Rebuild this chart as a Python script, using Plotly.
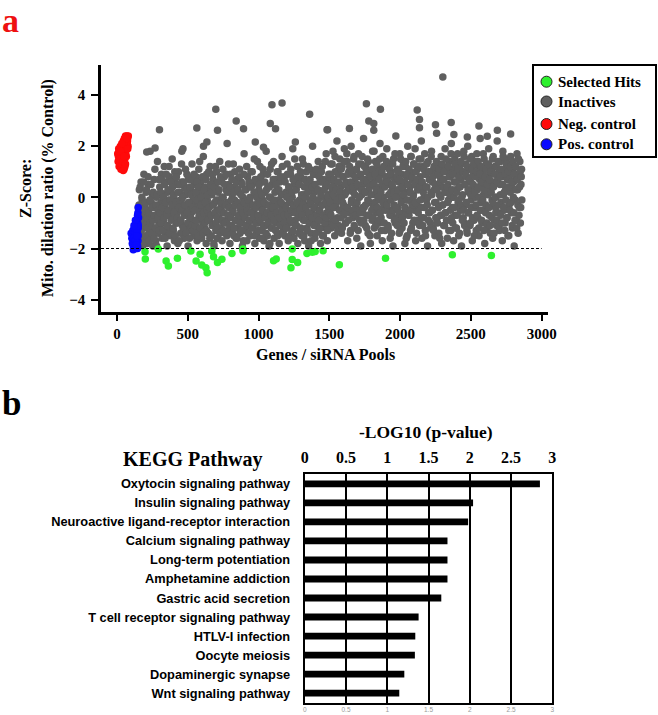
import numpy as np
import plotly.graph_objects as go

W, H = 658, 715
SERIF = "Liberation Serif, Times New Roman, serif"
SANS = "Liberation Sans, Arial, sans-serif"

# ---------------- Panel a data ----------------
gene_start = 150
gene_step = 4
inactive_y = [
    # genes ~150-300
    -0.4, -1.2, 0.3, -1.7, -0.8, 0.6, -1.5, -0.1, -1.9, -0.6, 0.9, -1.1, -0.3, -1.6, 0.2, -0.9, -1.8, -0.5, 0.5, -1.3,
    -0.7, 1.8, -1.0, -0.2, -1.5, 0.1, -1.9, -0.8, 0.7, -1.2, -0.4, -1.7, 0.0, -0.9, 1.4, -1.4, -0.6, -1.1,
    # genes ~300-1500
    0.4, -1.1, -0.2, 0.9, -1.6, -0.5, 0.1, -0.9, 1.2, -0.3, -1.4, 0.6, -0.7, -1.9, 0.2, -0.1, -1.2, 0.8, -0.6, -1.5,
    0.3, -0.8, 1.5, -0.4, -1.3, 0.0, -1.7, 0.7, -0.2, -1.0, 0.5, -0.6, -1.8, 1.0, -0.3, -0.9, 0.2, -1.4, -0.1, 0.6,
    -1.1, 1.9, -0.5, -1.6, 0.4, -0.7, 0.1, -1.2, 0.9, -0.4, -1.9, -0.2, 0.7, -0.8, -1.3, 0.3, -0.6, 1.3, -1.0, -0.1,
    -1.5, 0.5, -0.3, -1.1, 0.8, -0.9, -1.7, 0.0, -0.5, 1.1, -1.3, -0.2, 0.6, -0.7, -1.6, 0.2, -1.0, 1.6, -0.4, -1.2,
    0.4, -0.8, -1.8, 0.9, -0.1, -0.6, -1.4, 0.3, -0.9, 1.2, -0.3, -1.5, 0.1, -0.7, 0.7, -1.1, -1.9, -0.2, 0.5, -1.3,
    1.0, -0.5, -1.6, 0.2, -0.8, -0.1, 1.4, -1.2, -0.4, 0.6, -1.7, -0.6, 0.0, -1.0, 0.8, -0.3, -1.4, 0.3, -0.9, 2.1,
    -0.2, -1.3, 0.5, -0.7, -1.8, 0.9, -0.4, -1.1, 0.1, -0.6, 1.3, -1.5, -0.1, 0.4, -0.9, -1.6, 0.7, -0.3, -1.2, 0.2,
    -0.8, 1.1, -1.4, -0.5, 0.6, -1.0, -1.9, 0.0, -0.2, 1.7, -0.7, -1.3, 0.3, -0.4, -1.7, 0.8, -1.1, -0.6, 0.4, -0.1,
    -1.5, 1.0, -0.3, -0.9, 0.5, -1.2, -0.5, 1.5, -1.8, 0.1, -0.7, -1.4, 0.7, -0.2, -1.0, 0.3, -1.6, 1.2, -0.4, -0.8,
    0.6, -1.3, -0.1, 0.9, -1.7, -0.6, 0.2, -1.1, 1.8, -0.3, -1.5, 0.4, -0.8, -1.9, 0.0, 1.1, -0.5, -1.2, 0.5, -0.9,
    -0.2, 1.4, -1.6, -0.4, 0.7, -1.0, -0.7, 0.3, -1.4, 1.0, -0.1, -1.8, 0.6, -0.6, -1.1, 0.1, 1.6, -0.9, -1.3, -0.3,
    0.8, -1.5, -0.5, 0.2, -1.2, 1.3, -0.8, -1.7, 0.4, -0.2, -1.0, 0.9, -0.6, -1.4, 0.0, 1.9, -0.3, -1.6, 0.5, -0.9,
    -1.1, 0.3, -0.4, 1.2, -1.8, -0.7, 0.6, -0.1, -1.3, 0.8, -0.5, -1.5, 1.5, -0.2, -0.9, 0.1, -1.7, 0.7, -0.6, 1.0,
    -1.2, -0.3, 0.4, -1.9, -0.8, 1.1, -0.1, -1.4, 0.5, -0.6, 2.0, -1.0, -0.4, 0.2, -1.6, 0.9, -0.7, -1.1, 0.3, -0.2,
    1.4, -1.3, -0.5, 0.6, -1.8, -0.9, 0.0, 1.2, -0.3, -1.5, 0.7, -0.8, -1.2, 0.4, 1.7, -0.6, -1.7, 0.1, -0.4, -1.0,
    # genes ~1500-2860
    0.7, -0.6, 1.3, -1.2, 0.2, -0.1, 1.8, -0.9, 0.5, -1.5, 1.0, -0.3, 0.3, 2.2, -0.8, 0.9, -1.1, 0.0, 1.5, -0.5,
    0.4, -1.4, 1.2, -0.2, 0.8, -0.7, 1.9, 0.1, -1.0, 0.6, -0.4, 1.4, -1.7, 0.3, 1.0, -0.6, 0.5, -1.3, 2.0, -0.1,
    0.9, -0.8, 0.2, 1.6, -1.2, 0.6, -0.3, 1.1, -1.6, 0.4, -0.5, 1.7, 0.0, -0.9, 0.8, -1.9, 1.3, 0.1, -0.6, 0.5,
    2.3, -0.4, 0.7, -1.1, 1.2, 0.2, -0.7, 1.5, -1.4, 0.3, 0.9, -0.2, -1.8, 1.0, 0.5, -0.9, 1.8, -0.3, 0.6, -1.2,
    0.1, 1.4, -0.6, 0.8, -1.5, 0.4, 1.1, -0.1, -1.0, 2.1, 0.3, -0.8, 0.9, -1.7, 1.6, 0.0, -0.4, 1.2, -1.3, 0.6,
    -0.2, 1.9, 0.5, -1.1, 0.8, -0.5, 1.3, -1.6, 0.2, 1.0, -0.7, 0.4, -1.9, 1.5, -0.3, 0.7, -1.0, 2.4, 0.1, -0.8,
    1.1, -0.4, 0.6, -1.4, 1.7, 0.0, -0.9, 0.9, -1.2, 0.3, 1.4, -0.6, 0.5, -1.8, 1.2, -0.1, 0.8, -1.5, 2.0, 0.2,
    -0.7, 1.0, 0.4, -1.3, 1.6, -0.2, 0.7, -1.0, 0.1, 1.3, -0.5, 1.9, -1.7, 0.6, -0.3, 1.1, -0.9, 0.3, 1.5, -1.1,
    0.8, -0.4, 2.2, -1.6, 0.5, 1.2, -0.8, 0.0, 1.7, -1.3, 0.9, -0.1, 0.4, -1.9, 1.4, -0.6, 0.7, 1.0, -1.0, 0.2,
    1.8, -0.5, 0.6, -1.2, 1.1, 0.3, -1.5, 0.9, -0.2, 2.5, -0.8, 0.5, 1.3, -1.4, 0.1, 0.8, -0.7, 1.6, -1.8, 0.4,
    -0.3, 1.2, 0.7, -1.1, 1.9, -0.6, 0.2, 1.0, -1.6, 0.5, -0.1, 1.4, -0.9, 0.8, -1.3, 2.1, 0.0, -0.4, 1.1, -1.7,
    0.6, 1.5, -0.7, 0.3, -1.2, 0.9, 1.7, -0.2, -1.5, 0.4, 1.2, -0.5, 0.7, -1.9, 1.0, 0.1, -0.8, 1.8, -1.0, 0.5,
    1.3, -0.3, 0.8, -1.4, 2.0, -0.6, 0.2, 1.1, -1.1, 0.6, -0.1, 1.6, -1.7, 0.4, 0.9, -0.9, 1.4, -0.4, 0.0, -1.3,
    1.7, 0.3, -0.8, 1.2, -1.5, 0.7, 2.3, -0.2, 0.5, -1.0, 1.0, -0.5, 0.1, 1.5, -1.8, 0.8, -0.3, 1.3, -1.2, 0.6,
    0.2, 1.9, -0.7, 0.9, -1.4, 0.4, 1.1, -0.1, -1.6, 1.6, 0.6, -0.9, 1.2, -0.4, 0.0, -1.1, 2.2, 0.7, -0.6, 1.0,
    -1.3, 0.5, 1.4, -0.2, 0.8, -1.7, 1.8, 0.1, -0.5, 1.1, -1.0, 0.3, 1.5, -0.8, 0.7, -1.5, 1.3, -0.3, 0.9, 0.2,
    1.6, -0.6, 0.4, -1.2, 1.0, 0.6, -1.9, 1.2, -0.1, 0.8, -0.9, 1.7, 0.3, -1.4, 0.9, -0.4, 1.4, -1.0, 0.5, 1.1,
]
inactive_x = list(range(gene_start, gene_start + gene_step * len(inactive_y), gene_step))

# interleaved pools (genes 152, 156, ...)
inactive_y2 = [
    -1.0, -0.3, -1.6, 0.4, -0.7, -1.3, 0.0, -0.9, -1.8, 0.6, -0.5, -1.1, -0.2, -1.5, 0.3, -0.8, -1.2, 0.8, -0.6, -1.7,
    -0.1, -1.0, 0.5, -1.4, -0.4, -0.9, 0.2, -1.6, -0.7, 1.1, -1.2, -0.3, -1.9, 0.1, -0.8, -0.5, 0.7, -1.3,
    -0.6, 0.2, -1.0, 0.7, -0.4, -1.3, 0.0, -0.8, 0.5, -1.6, -0.2, 0.9, -0.7, -1.1, 0.3, -0.5, 1.2, -1.4, -0.1, 0.6,
    -0.9, -0.3, 0.4, -1.2, 0.1, -0.6, 1.0, -1.5, -0.2, 0.8, -0.8, -1.0, 0.2, -0.4, -1.7, 0.5, -0.1, -0.9, 1.3, -0.5,
    0.0, -1.2, 0.6, -0.7, -0.3, 1.1, -1.4, 0.3, -0.6, -1.0, 0.8, -0.2, -1.6, 0.4, -0.8, 0.1, -1.1, 0.7, -0.4, -1.3,
    0.9, -0.5, -1.1, 0.2, -0.9, 0.6, -0.1, -1.5, 0.4, -0.7, 1.4, -1.2, -0.3, 0.0, -0.8, 0.8, -1.4, -0.6, 0.3, -1.0,
    -0.2, 0.7, -1.3, -0.5, 0.1, -0.9, 1.0, -0.4, -1.6, 0.5, -0.7, 0.2, -1.1, 0.9, -0.3, -1.8, 0.4, -0.6, 1.2, -1.0,
    -0.1, -0.8, 0.6, -1.2, 0.3, -0.5, -1.4, 0.8, -0.2, -0.9, 0.0, 1.1, -1.3, -0.6, 0.5, -1.0, -0.3, 0.9, -1.5, 0.2,
    -0.7, 1.3, -0.4, -1.1, 0.4, -0.8, -0.1, 0.7, -1.4, -0.5, 0.2, -1.2, 1.0, -0.3, -0.9, 0.6, -1.6, -0.2, 0.3, -0.7,
    0.8, -1.0, -0.4, 0.1, -1.3, 0.5, -0.6, -1.7, 0.9, -0.2, -0.8, 0.3, -1.1, 1.2, -0.5, -0.1, -1.4, 0.6, -0.9, 0.0,
    -0.6, 0.4, -1.2, 1.0, -0.3, -0.8, 0.2, -1.5, 0.7, -0.4, -1.0, 0.0, 1.4, -0.7, -1.3, 0.5, -0.2, -0.9, 0.8, -1.6,
    0.1, -0.5, 1.1, -1.1, -0.2, 0.6, -0.8, -1.4, 0.3, -0.6, 0.9, -1.0, -0.3, 0.4, -1.8, 0.0, -0.7, 1.3, -1.2, -0.4,
    0.7, -0.9, -0.1, 0.2, -1.3, 0.5, -0.6, 1.0, -1.5, -0.3, 0.3, -0.8, -1.1, 0.8, -0.2, -0.5, 1.2, -1.4, 0.1, -0.7,
    -1.0, 0.6, -0.4, -1.2, 0.0, 0.9, -0.7, -1.6, 0.4, -0.1, -0.9, 1.1, -0.5, 0.2, -1.3, 0.7, -0.3, -1.0, 1.5, -0.6,
    0.3, -1.1, -0.2, 0.8, -0.8, -1.4, 0.5, -0.5, 1.0, -1.2, 0.1, -0.7, -0.3, 1.3, -1.5, 0.4, -0.9, 0.0, -0.4, 0.6,
    -1.3, 0.2, 1.2, -0.6, -1.0, 0.7, -0.2, -1.7, 0.4, -0.8, 0.0, 0.9, -1.1, -0.4, 0.5, -1.4, 1.1, -0.7, -0.1, 0.3,
    -0.9, 0.8, -0.5, -1.2, 0.1, 1.0, -0.3, -1.5, 0.6, -0.7, 0.3, -1.0, 1.4, -0.2, -0.8, 0.5, -1.3, 0.0, 0.9, -0.6,
    -0.2, 0.9, -0.7, 0.4, 1.3, -1.1, 0.1, 0.7, -0.4, 1.6, -0.9, 0.3, -0.1, 1.0, -1.3, 0.6, 1.2, -0.5, 0.2, -0.8,
    1.1, 0.0, -1.2, 0.8, -0.3, 1.4, -0.6, 0.5, -1.0, 0.2, 1.7, -0.4, 0.9, -0.9, 0.3, 1.2, -1.4, 0.6, -0.2, 1.0,
    -0.5, 0.4, 1.5, -1.1, 0.1, 0.8, -0.7, 1.1, -0.2, 0.5, -1.3, 1.3, 0.0, -0.6, 0.9, -1.0, 0.3, 1.6, -0.4, 0.7,
    -0.9, 1.2, 0.2, -0.3, 1.0, -1.2, 0.6, -0.1, 1.4, -0.7, 0.4, -1.5, 0.8, 0.1, -0.5, 1.1, -0.8, 0.5, 1.8, -0.2,
    0.9, -1.1, 0.3, 1.3, -0.4, 0.0, -0.9, 0.7, 1.5, -0.6, 0.2, -1.3, 1.0, 0.5, -0.2, 1.2, -1.0, 0.4, -0.5, 0.8,
    1.4, -0.3, 0.6, -1.2, 0.1, 1.1, -0.7, 0.9, -0.1, -1.4, 0.5, 1.3, -0.5, 0.2, -0.9, 1.7, 0.0, -0.4, 0.8, -1.1,
    0.3, 1.0, -0.6, 0.7, -1.3, 1.5, -0.2, 0.4, -0.8, 1.2, 0.1, -1.0, 0.6, -0.4, 1.4, -1.6, 0.9, -0.1, 0.5, -0.7,
    1.1, -0.5, 0.2, 1.6, -1.2, 0.8, -0.3, 0.0, 1.3, -0.9, 0.5, -0.2, 1.0, -1.4, 0.7, 0.3, -0.6, 1.2, -1.0, 0.4,
    -0.1, 1.5, -0.8, 0.6, -1.1, 0.2, 1.1, -0.4, 0.9, -1.5, 0.4, 1.3, -0.3, 0.0, -0.9, 1.0, -0.6, 0.7, -1.2, 1.6,
    0.1, -0.5, 0.8, -1.3, 1.2, -0.2, 0.5, -0.8, 1.4, 0.3, -1.0, 0.9, -0.4, 1.1, -1.6, 0.6, 0.0, -0.7, 1.3, -0.3,
    0.7, -1.1, 1.0, 0.2, -0.6, 1.5, -0.9, 0.4, -0.2, 1.2, -1.3, 0.8, 0.1, -0.5, 1.7, -0.8, 0.3, -1.0, 0.9, 0.0,
    -0.4, 1.3, -1.2, 0.6, 0.2, -0.7, 1.1, -0.1, 0.8, -1.4, 0.4, 1.4, -0.3, 0.0, -0.9, 1.0, -0.5, 1.6, -1.1, 0.5,
    0.9, -0.2, -1.3, 1.2, 0.3, -0.6, 0.7, 1.5, -1.0, 0.1, -0.4, 1.1, -0.8, 0.5, 1.3, -1.5, 0.2, 0.8, -0.3, 1.0,
    -0.7, 0.4, 1.4, -1.2, 0.0, 0.9, -0.5, 1.2, -0.9, 0.6, -0.1, 1.7, -1.3, 0.3, 0.8, -0.6, 1.1, -1.0, 0.5, 0.1,
    1.3, -0.4, 0.7, -1.1, 1.0, 0.2, -0.8, 1.5, -0.2, 0.4, -1.4, 0.9, 0.0, -0.6, 1.2, -0.9, 0.6, 1.4, -0.3, -1.2,
    0.8, 0.1, -0.7, 1.1, -1.0, 0.5, 1.6, -0.4, 0.2, -1.3, 0.9, -0.1, 1.3, -0.8, 0.4, 1.0, -1.5, 0.7, -0.5, 1.2,
    -0.2, 0.6, -1.1, 1.4, 0.0, -0.6, 0.9, -0.9, 1.2, 0.3, -1.2, 0.7, -0.3, 1.5, -0.7, 0.4, 1.0, -0.4, 0.8, -0.1,
]
inactive_x2 = list(range(gene_start + 2, gene_start + 2 + gene_step * len(inactive_y2), gene_step))

# sparse high-scoring inactives
inactive_out_x = [210, 269, 300, 458, 564, 611, 635, 698, 710, 842, 894, 977, 1035, 1083, 1095, 1120, 1166, 1260,
                  1361, 1484, 1488, 1642, 1762, 1779, 1814, 1814, 1861, 2121, 2137, 2137, 2250, 2302, 2361, 2380,
                  2475, 2557, 2616, 2687, 2781]
inactive_out_y = [1.77, 1.93, 2.64, 1.80, 2.71, 2.0, 2.16, 3.44, 2.62, 2.98, 2.68, 2.16, 1.96, 2.88, 3.62, 2.68, 3.69, 2.16,
                  3.25, 2.64, 2.64, 2.69, 3.66, 2.98, 2.88, 2.62, 3.44, 3.41, 3.04, 2.72, 2.84, 4.70, 2.92, 2.45,
                  2.36, 2.79, 2.39, 2.62, 2.47]

hits_x = [198, 200, 292, 347, 363, 427, 522, 559, 587, 599, 628, 637, 670, 682, 710, 741, 812, 890, 890,
          1106, 1125, 1229, 1238, 1238, 1276, 1342, 1380, 1400, 1456, 1571, 1897, 2369, 2645]
hits_y = [-2.13, -2.41, -2.02, -2.49, -2.68, -2.38, -2.10, -2.49, -2.22, -2.64, -2.75, -2.95, -2.10, -2.32, -2.55,
          -2.42, -2.19, -2.02, -2.09, -2.48, -2.41, -2.75, -2.02, -2.43, -2.55, -2.19, -2.15, -2.12, -2.09, -2.63,
          -2.38, -2.24, -2.27]

neg_x = [5, 8, 12, 15, 18, 20, 22, 25, 28, 30, 33, 35, 38, 40, 42, 45, 48, 50, 52, 55,
         58, 60, 62, 65, 68, 70, 72, 75, 78, 80, 10, 14, 24, 32, 36, 44, 54, 64, 74, 46,
         26, 56, 66, 34, 16, 76, 42, 60, 70, 50]
neg_y = [1.7, 1.4, 1.9, 1.2, 1.6, 1.8, 1.3, 1.5, 1.1, 1.7, 2.0, 1.4, 1.9, 1.2, 1.6, 2.2, 1.8, 1.1, 2.3, 1.5,
         2.0, 2.4, 1.7, 2.2, 1.9, 2.4, 2.1, 2.3, 2.0, 2.4, 1.6, 1.8, 2.0, 1.5, 1.3, 1.05, 1.7, 1.9, 2.2, 2.1,
         1.8, 1.2, 1.6, 2.1, 1.5, 1.9, 1.4, 1.3, 2.3, 1.6]

pos_x = [150, 148, 152, 145, 147, 140, 143, 150, 135, 138, 145, 130, 128, 140, 148, 120, 125, 135, 142, 150,
         110, 118, 128, 138, 146, 105, 115, 125, 135, 145, 100, 112, 122, 132, 142, 150, 108, 118, 130, 140,
         115, 125, 135, 120, 130]
pos_y = [-0.4, -0.6, -0.8, -0.7, -1.0, -0.9, -1.1, -1.2, -1.0, -1.3, -1.4, -1.2, -1.5, -1.6, -1.7, -1.3, -1.4, -1.6,
         -1.8, -1.5, -1.5, -1.7, -1.8, -1.9, -1.9, -1.6, -1.9, -2.0, -2.0, -2.0, -1.4, -1.3, -1.2, -1.1, -1.3, -1.1,
         -1.8, -1.6, -1.7, -1.5, -2.05, -1.95, -1.85, -1.1, -0.9]

x_ticks_a = [0, 500, 1000, 1500, 2000, 2500, 3000]
y_ticks_a = [-4, -2, 0, 2, 4]
hit_threshold = -2
legend_names = ["Selected Hits", "Inactives", "Neg. control", "Pos. control"]

# ---------------- Panel b data ----------------
pathways = ["Oxytocin signaling pathway", "Insulin signaling pathway",
            "Neuroactive ligand-receptor interaction", "Calcium signaling pathway",
            "Long-term potentiation", "Amphetamine addiction", "Gastric acid secretion",
            "T cell receptor signaling pathway", "HTLV-I infection", "Oocyte meiosis",
            "Dopaminergic synapse", "Wnt signaling pathway"]
neglog_p = [2.85, 2.04, 1.98, 1.73, 1.73, 1.73, 1.655, 1.38, 1.34, 1.335, 1.207, 1.146]
x_ticks_b = [0, 0.5, 1, 1.5, 2, 2.5, 3]
x_ticklabels_b = ["0", "0.5", "1", "1.5", "2", "2.5", "3"]

GREEN, GRAY, RED, BLUE = "#2ef02e", "#5f5f5f", "#ff0a0a", "#0a0aff"
MS = 7.5

fig = go.Figure()
fig.add_trace(go.Scatter(x=inactive_x + inactive_x2 + inactive_out_x,
                         y=inactive_y + inactive_y2 + inactive_out_y, mode="markers",
                         marker=dict(color=GRAY, size=MS), showlegend=False, xaxis="x", yaxis="y"))
fig.add_trace(go.Scatter(x=hits_x, y=hits_y, mode="markers", marker=dict(color=GREEN, size=MS),
                         showlegend=False, xaxis="x", yaxis="y"))
fig.add_trace(go.Scatter(x=neg_x, y=neg_y, mode="markers", marker=dict(color=RED, size=MS),
                         showlegend=False, xaxis="x", yaxis="y"))
fig.add_trace(go.Scatter(x=pos_x, y=pos_y, mode="markers", marker=dict(color=BLUE, size=MS),
                         showlegend=False, xaxis="x", yaxis="y"))

fig.add_trace(go.Bar(x=neglog_p, y=pathways, orientation="h", marker=dict(color="black", line=dict(width=0)),
                     width=0.36, showlegend=False, xaxis="x2", yaxis="y2"))
fig.add_trace(go.Scatter(x=[None], y=[None], showlegend=False, xaxis="x3", yaxis="y2"))

tickfont_a = dict(family=SERIF, size=15, color="black", weight="bold")

# legend box for panel a (drawn as a framed key)
leg_left, leg_right, leg_top, leg_bottom = 533, 656, 65, 157
leg_rows = [81.7, 101.5, 124.0, 144.3]
leg_cols = [GREEN, GRAY, RED, BLUE]
shapes = [
    dict(type="line", xref="x", yref="y", x0=-113, x1=3000, y0=hit_threshold, y1=hit_threshold,
         line=dict(color="black", width=1.2, dash="3px,2px"), layer="above"),
    dict(type="rect", xref="paper", yref="paper", x0=leg_left / W, x1=leg_right / W,
         y0=1 - leg_bottom / H, y1=1 - leg_top / H, line=dict(color="black", width=2),
         fillcolor="white", layer="above"),
]
annotations = []
for name, col, yy in zip(legend_names, leg_cols, leg_rows):
    r = 5.5
    shapes.append(dict(type="circle", xref="paper", yref="paper",
                       x0=(546.5 - r) / W, x1=(546.5 + r) / W, y0=1 - (yy + r) / H, y1=1 - (yy - r) / H,
                       fillcolor=col, line=dict(color="#222222", width=1), layer="above"))
    annotations.append(dict(text=name, x=556 / W, y=1 - yy / H, xref="paper", yref="paper",
                            xanchor="left", yanchor="middle", showarrow=False,
                            font=dict(family=SERIF, size=15, color="black", weight="bold")))

annotations += [
    dict(text="a", x=0, y=1, xref="paper", yref="paper", xanchor="left", yanchor="top",
         showarrow=False, font=dict(family=SERIF, size=34, color="#ee1111", weight="bold")),
    dict(text="b", x=0, y=1 - 403 / H, xref="paper", yref="paper", xanchor="left", yanchor="middle",
         showarrow=False, font=dict(family=SERIF, size=35, color="black", weight="bold")),
    dict(text="Z-Score:", x=25 / W, y=1 - 189 / H, xref="paper", yref="paper", xanchor="center",
         yanchor="middle", textangle=-90, showarrow=False,
         font=dict(family=SERIF, size=16, color="black", weight="bold")),
    dict(text="Mito. dilation ratio (% Control)", x=48 / W, y=1 - 188 / H, xref="paper", yref="paper",
         xanchor="center", yanchor="middle", textangle=-90, showarrow=False,
         font=dict(family=SERIF, size=16, color="black", weight="bold")),
    dict(text="Genes / siRNA Pools", x=325 / W, y=1 - 355 / H, xref="paper", yref="paper",
         xanchor="center", yanchor="middle", showarrow=False,
         font=dict(family=SERIF, size=16, color="black", weight="bold")),
    dict(text="KEGG Pathway", x=192 / W, y=1 - 459 / H, xref="paper", yref="paper",
         xanchor="center", yanchor="middle", showarrow=False,
         font=dict(family=SERIF, size=20, color="black", weight="bold")),
    dict(text="-LOG10 (p-value)", x=426 / W, y=1 - 432 / H, xref="paper", yref="paper",
         xanchor="center", yanchor="middle", showarrow=False,
         font=dict(family=SERIF, size=17.5, color="black", weight="bold")),
]

fig.update_layout(
    width=W, height=H, margin=dict(l=0, r=0, t=0, b=0, autoexpand=False),
    paper_bgcolor="white", plot_bgcolor="white", showlegend=False,
    xaxis=dict(domain=[101 / W, 548 / W], anchor="y", range=[-113, 3045], automargin=False,
               tickvals=x_ticks_a, showline=True, linecolor="black", linewidth=2.5,
               ticks="outside", ticklen=6, tickwidth=2, tickcolor="black",
               showgrid=False, zeroline=False, tickfont=tickfont_a),
    yaxis=dict(domain=[1 - 312 / H, 1 - 65 / H], anchor="x", range=[-4.48, 5.17], automargin=False,
               tickvals=y_ticks_a, showline=True, linecolor="black", linewidth=2.5,
               ticks="outside", ticklen=7, tickwidth=2, tickcolor="black",
               showgrid=False, zeroline=False, tickfont=tickfont_a, ticklabelstandoff=3),
    xaxis2=dict(domain=[304.7 / W, 552.3 / W], anchor="y2", side="top", range=[0, 3], automargin=False,
                tickvals=x_ticks_b, ticktext=x_ticklabels_b, showgrid=True, gridcolor="black", gridwidth=2,
                showline=True, mirror=True, linecolor="black", linewidth=2, zeroline=False, ticks="",
                tickfont=dict(family=SERIF, size=16, color="black", weight="bold"), ticklabelstandoff=3),
    xaxis3=dict(domain=[304.7 / W, 552.3 / W], anchor="y2", overlaying="x2", side="bottom", range=[0, 3],
                automargin=False, tickvals=x_ticks_b, ticktext=x_ticklabels_b, showgrid=False, showline=False,
                zeroline=False, ticks="", tickfont=dict(family=SANS, size=6.5, color="#9a9a9a"),
                ticklabelstandoff=2),
    yaxis2=dict(domain=[1 - 702.7 / H, 1 - 474.3 / H], anchor="x2", type="category", automargin=False,
                categoryorder="array", categoryarray=pathways, range=[11.5, -0.5],
                showline=True, mirror=True, linecolor="black", linewidth=2, showgrid=False, zeroline=False,
                ticks="", tickfont=dict(family=SANS, size=12.8, color="black", weight="bold"),
                ticklabelstandoff=10),
    shapes=shapes,
    annotations=annotations,
)

fig.write_html("out.html", config={"displayModeBar": False},
               post_script="document.body.style.margin='0px';document.body.style.overflow='hidden';")
